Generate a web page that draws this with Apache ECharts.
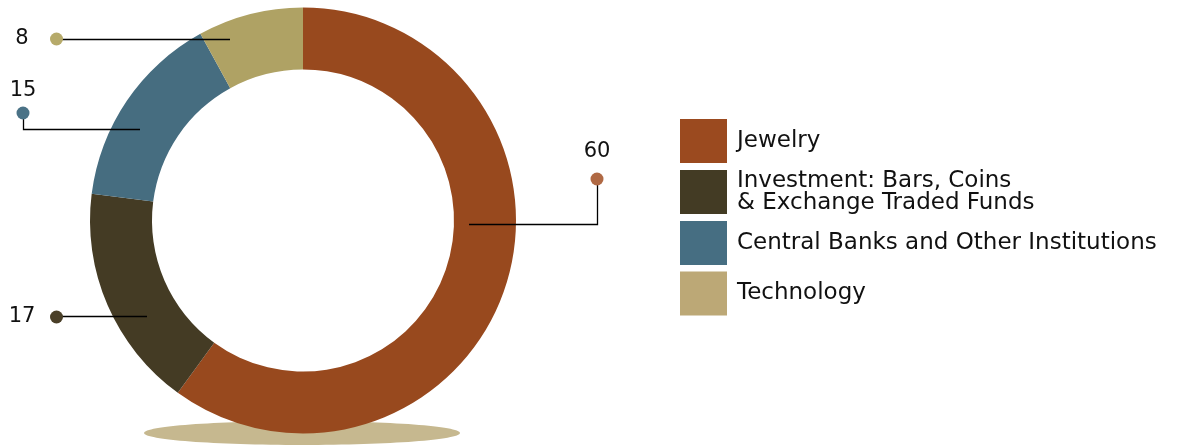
<!DOCTYPE html>
<html>
<head>
<meta charset="utf-8">
<script src="https://cdn.jsdelivr.net/npm/echarts@6/dist/echarts.min.js"></script>
<style>
html,body{margin:0;padding:0;background:#fff;}
#chart{width:1177px;height:448px;}
</style>
</head>
<body>
<div id="chart"></div>
<script>
// ---- data ----
const categories = ['Jewelry', 'Investment: Bars, Coins\n& Exchange Traded Funds', 'Central Banks and Other Institutions', 'Technology'];
const values = [60, 17, 15, 8];
const sliceColors = ['#98491e', '#443b24', '#466d80', '#afa264'];
const legendColors = ['#9b4a1f', '#433b24', '#466e82', '#bca876'];
const dotColors = ['#b06944', '#4a3f28', '#4a7286', '#b6aa6a'];

// ---- layout (styles / positions) ----
const FONT = '"DejaVu Sans", "Noto Sans", sans-serif';
const pieCenter = [303, 220.5];
const pieRadius = [151, 213];
// label anchor layout per slice
const labelSpec = [
  {x: 597, y: 140, align: 'center', va: 'top', line: [[469, 224.5], [597.5, 224.5], [597.5, 179]], stack: true, dotLH: 30},
  {x: 7, y: 317, align: 'left', va: 'middle', line: [[147, 316.5], [100, 316.5], [57, 316.5]], stack: false},
  {x: 23, y: 79, align: 'center', va: 'top', line: [[140, 129.5], [23.5, 129.5], [23.5, 113]], stack: true, dotLH: 20},
  {x: 7, y: 39, align: 'left', va: 'middle', line: [[230, 39.5], [140, 39.5], [57, 39.5]], stack: false}
];

const rich = {
  v: {fontSize: 21, color: '#111', lineHeight: 24, fontFamily: FONT},
  vw: {fontSize: 21, color: '#111', lineHeight: 24, width: 30, align: 'center', fontFamily: FONT},
  sp: {width: 13}
};
labelSpec.forEach((s, i) => {
  rich['d' + i] = {width: 13, height: 13, borderRadius: 6.5, backgroundColor: dotColors[i], lineHeight: s.stack ? s.dotLH : 24};
});

const chart = echarts.init(document.getElementById('chart'), null, {renderer: 'canvas'});
chart.setOption({
  animation: false,
  backgroundColor: '#fff',
  graphic: [{
    type: 'ellipse',
    z: 0,
    shape: {cx: pieCenter[0] - 1, cy: pieCenter[1] + pieRadius[1] - 0.5, rx: 158, ry: 12},
    style: {fill: '#c6b88f'}
  }],
  legend: {
    orient: 'vertical',
    left: 680,
    top: 119,
    padding: 0,
    itemWidth: 47,
    itemHeight: 44,
    itemGap: 6.5,
    icon: 'rect',
    selectedMode: false,
    data: categories.map((c, i) => ({name: c, itemStyle: {color: legendColors[i]}})),
    textStyle: {fontSize: 23, color: '#111', lineHeight: 22, padding: [0, 0, 0, 5], fontFamily: FONT}
  },
  series: [{
    type: 'pie',
    z: 2,
    center: pieCenter,
    radius: pieRadius,
    startAngle: 90,
    clockwise: true,
    silent: true,
    data: categories.map((c, i) => ({name: c, value: values[i], itemStyle: {color: sliceColors[i]}})),
    label: {show: false},
    labelLine: {show: false}
  }, {
    type: 'pie',
    z: 3,
    center: pieCenter,
    radius: pieRadius,
    startAngle: 90,
    clockwise: true,
    avoidLabelOverlap: false,
    silent: true,
    legendHoverLink: false,
    data: categories.map((c, i) => ({name: c, value: values[i], itemStyle: {color: 'rgba(0,0,0,0)'}})),
    label: {
      show: true,
      position: 'outside',
      formatter: p => {
        const i = p.dataIndex;
        return labelSpec[i].stack ? '{v|' + p.value + '}\n{d' + i + '|}' : '{vw|' + p.value + '}{sp|}{d' + i + '|}';
      },
      rich: rich
    },
    labelLine: {show: true, smooth: false, lineStyle: {color: '#000', width: 1.3, opacity: 1}},
    labelLayout: params => {
      const s = labelSpec[params.dataIndex];
      return {x: s.x, y: s.y, align: s.align, verticalAlign: s.va, labelLinePoints: s.line};
    }
  }]
});
</script>
</body>
</html>
